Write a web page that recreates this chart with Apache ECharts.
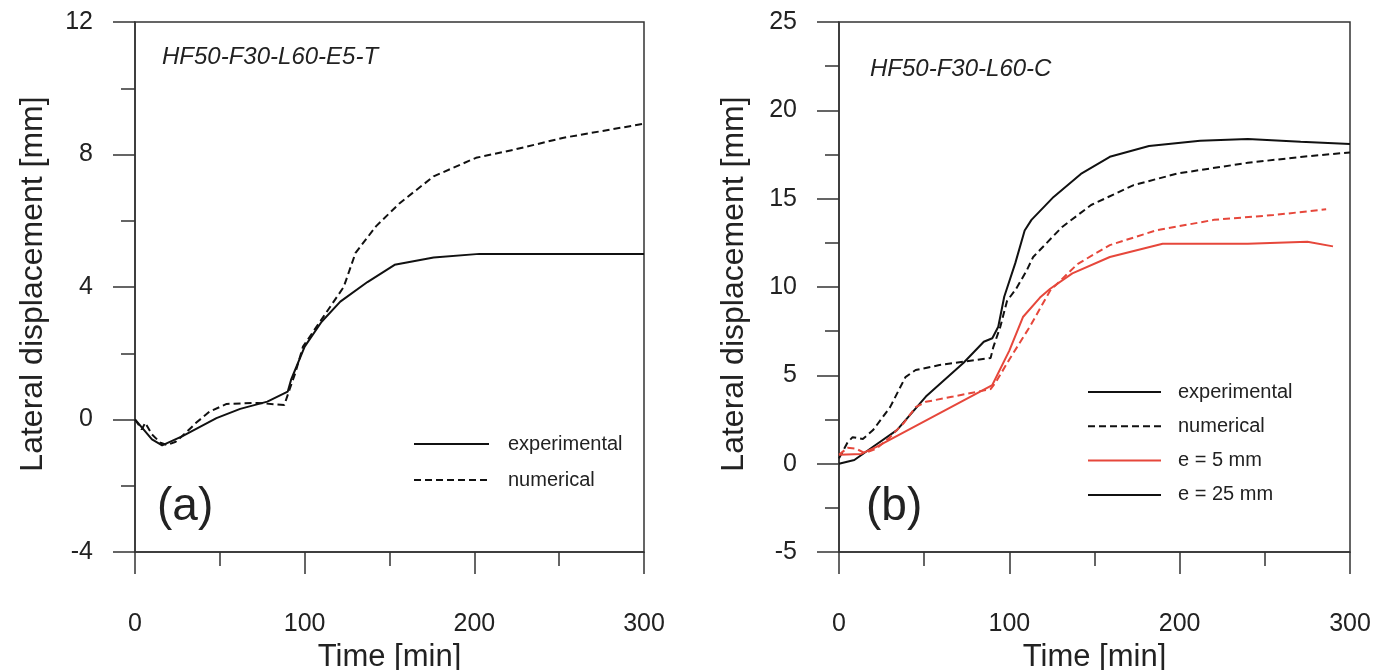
<!DOCTYPE html>
<html>
<head>
<meta charset="utf-8">
<script src="https://cdn.jsdelivr.net/npm/echarts@6/dist/echarts.min.js"></script>
<style>
html,body{margin:0;padding:0;background:#fff;}
#c{width:1386px;height:670px;}
</style>
</head>
<body>
<div id="c"></div>
<script>
// ---------- Data (panel a) ----------
const aExpTime = [0, 5, 10, 16, 28, 48, 62, 78, 90, 92, 100, 110, 121, 137, 153, 176, 203, 250, 300];
const aExpVal  = [0, -0.3, -0.6, -0.78, -0.5, 0.04, 0.32, 0.54, 0.84, 1.2, 2.2, 2.95, 3.56, 4.15, 4.67, 4.89, 5.0, 5.0, 5.0];
const aNumTime = [0, 4, 6, 10, 15, 19, 24, 30, 36, 44, 54, 72, 88, 91, 94.5, 99, 111, 123, 130, 142, 156, 176, 201, 223, 252, 300];
const aNumVal  = [0, -0.3, -0.1, -0.45, -0.7, -0.77, -0.67, -0.4, -0.1, 0.24, 0.47, 0.5, 0.44, 0.89, 1.41, 2.2, 3.1, 4.0, 5.03, 5.83, 6.53, 7.34, 7.9, 8.14, 8.5, 8.93];

// ---------- Data (panel b) ----------
const bExp25Time = [0, 9, 20, 34, 51, 73, 85, 90, 93.5, 97, 103.5, 109, 113, 126, 142, 159, 182, 212, 240, 271, 300];
const bExp25Val  = [0, 0.21, 0.96, 1.9, 3.8, 5.7, 6.9, 7.1, 7.75, 9.45, 11.35, 13.2, 13.8, 15.1, 16.4, 17.37, 17.98, 18.28, 18.38, 18.22, 18.09];
const bNum25Time = [0, 5, 8, 14, 20, 30, 39, 45, 59, 73, 89, 90.6, 94.7, 98.6, 104, 110, 114, 131, 148, 173, 199, 240, 271, 300];
const bNum25Val  = [0.3, 1.2, 1.5, 1.4, 1.9, 3.2, 4.9, 5.3, 5.58, 5.77, 5.98, 6.6, 7.75, 9.2, 9.9, 10.9, 11.7, 13.4, 14.64, 15.77, 16.43, 17.03, 17.36, 17.62];
const bExp5Time  = [0, 13, 22, 90, 100, 108, 118, 124, 137, 159, 190, 240, 275, 290];
const bExp5Val   = [0.5, 0.55, 0.95, 4.45, 6.4, 8.3, 9.4, 9.9, 10.77, 11.7, 12.45, 12.45, 12.56, 12.3];
const bNum5Time  = [0, 5, 10, 15, 22, 30, 38, 45, 51, 67, 89, 92, 100, 112, 124, 140, 159, 186, 220, 255, 286];
const bNum5Val   = [0.5, 0.9, 0.85, 0.6, 0.85, 1.5, 2.3, 3.2, 3.5, 3.8, 4.22, 4.6, 5.9, 7.75, 9.8, 11.3, 12.37, 13.2, 13.8, 14.07, 14.4];

// ---------- Ticks / labels ----------
const xTicks = {min: 0, max: 300, interval: 100};
const yTicksA = {min: -4, max: 12, interval: 4};
const yTicksB = {min: -5, max: 25, interval: 5};
const xTitle = 'Time [min]';
const yTitle = 'Lateral displacement [mm]';
const labelA = 'HF50-F30-L60-E5-T';
const labelB = 'HF50-F30-L60-C';
const legendA = ['experimental', 'numerical'];
const legendB = ['experimental', 'numerical', 'e = 5 mm', 'e = 25 mm'];

const zip = (t, v) => t.map((x, i) => [x, v[i]]);

const FONT = '"Liberation Sans", Arial, sans-serif';
const TXT = '#222';
const BLACK = '#111';
const RED = '#e6473b';
const DASH = [7, 4];

function xAxis(gi) {
  return {
    type: 'value', gridIndex: gi, min: xTicks.min, max: xTicks.max, interval: xTicks.interval,
    name: xTitle, nameLocation: 'middle', nameGap: 88,
    nameTextStyle: {fontSize: 31, color: TXT, fontFamily: FONT},
    axisLine: {show: true, onZero: false, lineStyle: {color: '#333', width: 1.5}},
    axisTick: {show: true, inside: false, length: 22, lineStyle: {color: '#333', width: 1.5}},
    minorTick: {show: true, splitNumber: 2, length: 14, lineStyle: {color: '#333', width: 1.5}},
    axisLabel: {fontSize: 25, color: TXT, fontFamily: FONT, margin: 60},
    splitLine: {show: false}
  };
}
function yAxis(gi, t, gap) {
  return {
    type: 'value', gridIndex: gi, min: t.min, max: t.max, interval: t.interval,
    name: yTitle, nameLocation: 'middle', nameGap: gap,
    nameTextStyle: {fontSize: 32, color: TXT, fontFamily: FONT, padding: [0, 0, 0, 6]},
    axisLine: {show: true, onZero: false, lineStyle: {color: '#333', width: 1.5}},
    axisTick: {show: true, inside: false, length: 22, lineStyle: {color: '#333', width: 1.5}},
    minorTick: {show: true, splitNumber: 2, length: 14, lineStyle: {color: '#333', width: 1.5}},
    axisLabel: {fontSize: 25, color: TXT, fontFamily: FONT, margin: 42},
    splitLine: {show: false}
  };
}
function line(name, data, gi, color, dashed) {
  return {
    name: name, type: 'line', xAxisIndex: gi, yAxisIndex: gi, data: data,
    symbol: 'none', smooth: false, silent: true,
    lineStyle: {color: color, width: 2, type: dashed ? DASH : 'solid'},
    itemStyle: {color: color}
  };
}

const legendCommon = {
  orient: 'vertical', padding: 0, itemHeight: 14, selectedMode: false,
  itemStyle: {opacity: 0, borderWidth: 0}
};

const chart = echarts.init(document.getElementById('c'), null, {renderer: 'canvas'});
chart.setOption({
  animation: false,
  backgroundColor: '#fff',
  grid: [
    {left: 135, top: 22, width: 509, height: 530, outerBoundsMode: 'none', containLabel: false,
     show: true, borderColor: '#333', borderWidth: 1.5, backgroundColor: 'transparent'},
    {left: 839, top: 22, width: 511, height: 530, outerBoundsMode: 'none', containLabel: false,
     show: true, borderColor: '#333', borderWidth: 1.5, backgroundColor: 'transparent'}
  ],
  xAxis: [xAxis(0), xAxis(1)],
  yAxis: [yAxis(0, yTicksA, 86), yAxis(1, yTicksB, 89)],
  legend: [
    Object.assign({}, legendCommon, {data: legendA, left: 413, top: 433, itemWidth: 75, itemGap: 14,
     textStyle: {fontSize: 20, lineHeight: 22, color: TXT, fontFamily: FONT, padding: [0, 0, 0, 14]}}),
    Object.assign({}, legendCommon, {data: legendB, left: 1087, top: 381, itemWidth: 73, itemGap: 12.3,
     textStyle: {fontSize: 20, lineHeight: 22, color: TXT, fontFamily: FONT, padding: [0, 0, 0, 12]}})
  ],
  graphic: [
    {type: 'text', left: 162, top: 45, style: {text: labelA, font: 'italic 24px ' + FONT, fill: TXT}},
    {type: 'text', left: 870, top: 57, style: {text: labelB, font: 'italic 24px ' + FONT, fill: TXT}},
    {type: 'text', left: 157, top: 484, style: {text: '(a)', font: '46px ' + FONT, fill: TXT}},
    {type: 'text', left: 866, top: 484, style: {text: '(b)', font: '46px ' + FONT, fill: TXT}}
  ],
  series: [
    line('experimental', zip(aExpTime, aExpVal), 0, BLACK, false),
    line('numerical', zip(aNumTime, aNumVal), 0, BLACK, true),
    line('e = 25 mm', zip(bExp25Time, bExp25Val), 1, BLACK, false),
    line('numerical e = 25 mm', zip(bNum25Time, bNum25Val), 1, BLACK, true),
    line('e = 5 mm', zip(bExp5Time, bExp5Val), 1, RED, false),
    line('numerical e = 5 mm', zip(bNum5Time, bNum5Val), 1, RED, true)
  ]
});
</script>
</body>
</html>
